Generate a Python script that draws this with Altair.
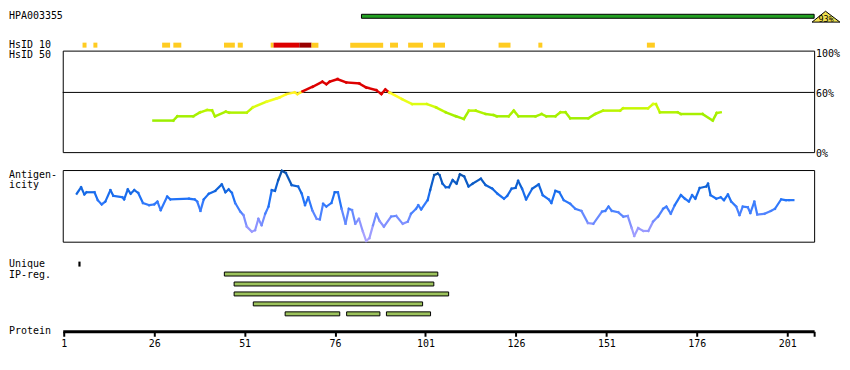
import altair as alt
import pandas as pd

FONT = "DejaVu Sans Mono"
W = 755
X_DOMAIN = [0.725, 208.43]

# ---------------- data ----------------
hpa_id = "HPA003355"
hpa_start = [83.3]
hpa_end = [208.43]
hpa_identity = ["93%"]

hsid10_start = [6.2, 9.2, 28.2, 31.3, 45.3, 49.1, 58.2, 59.0, 66.1, 69.5, 80.2, 91.2, 96.2, 103.1, 121.2, 132.2, 162.2]
hsid10_end = [7.3, 10.3, 30.4, 33.5, 48.3, 50.5, 59.0, 66.1, 69.5, 71.4, 89.3, 93.4, 100.3, 106.4, 124.5, 133.3, 164.4]
hsid10_level = ["mid"] * 7 + ["high", "top", "mid"] + ["mid"] * 7

hsid50_res = [25.8, 31.3, 32.4, 36.8, 38.7, 40.6, 42.0, 42.8, 45.8, 46.7, 51.6, 53.3, 57.1, 59.9, 60.7,
              62.6, 64.8, 65.6, 67.0, 69.8, 72.5, 73.6, 74.5, 76.7, 79.1, 82.7, 84.6, 87.4, 88.8, 89.9,
              91.0, 94.5, 97.3, 101.4, 103.9, 106.6, 109.4, 111.6, 113.0, 114.9, 117.6, 119.8, 120.7,
              124.0, 125.4, 126.7, 131.4, 133.1, 134.4, 136.9, 138.3, 139.7, 141.0, 146.0, 147.9, 150.1,
              154.8, 155.6, 162.5, 163.9, 164.7, 165.8, 170.7, 171.6, 177.6, 180.4, 181.5, 182.6]
hsid50_val = [31.7, 31.7, 36, 36, 40, 42.3, 42, 36, 40.7, 39.7, 39.7, 45, 50.7, 54, 55,
              58.3, 60, 58.3, 61, 65.7, 70.7, 68.3, 70.7, 73.3, 70, 69, 65, 62.3, 58.3, 63,
              60, 53.3, 48.3, 48.3, 45, 40, 36, 33.3, 41.7, 41.7, 38.3, 37.3, 36,
              36, 41.7, 36, 36, 38.3, 36, 36, 40, 40, 34, 34, 38.3, 41.7,
              41.7, 44, 44, 48.3, 48.3, 40, 40, 38.3, 38.3, 31.7, 39.3, 40]

antigen_res = [4.6, 5.8, 6.7, 7.3, 9.5, 10.4, 11.5, 12.5, 13.9, 14.7, 17.2, 17.7, 18.7, 19.5, 20.5, 21.6,
               22.9, 24.6, 26.0, 26.9, 27.8, 29.6, 30.5, 35.6, 37.2, 37.9, 38.8, 39.7, 41.1, 42.9, 44.7,
               45.7, 46.6, 47.5, 48.4, 49.8, 50.7, 51.6, 53.0, 53.9, 54.8, 55.7, 56.7, 57.6, 58.5, 59.4,
               60.3, 61.3, 62.4, 64.0, 65.8, 66.8, 67.7, 68.6, 69.7, 70.9, 71.8, 72.7, 73.6, 75.0, 75.9,
               76.8, 77.8, 78.9, 79.8, 80.7, 81.6, 82.6, 83.7, 84.6, 85.5, 86.5, 87.4, 88.3, 89.5, 91.5,
               92.9, 94.7, 96.1, 97.0, 98.4, 99.0, 99.8, 101.6, 102.3, 103.4, 104.4, 104.9, 105.7, 106.6,
               107.5, 108.5, 109.6, 110.5, 111.7, 112.9, 114.0, 116.3, 117.6, 119.5, 120.9, 122.7, 123.6,
               124.8, 125.9, 126.6, 127.7, 128.8, 130.5, 132.3, 133.4, 135.1, 135.8, 136.9, 138.0, 139.2,
               141.0, 142.4, 144.1, 145.9, 147.4, 149.8, 150.7, 151.6, 152.5, 154.3, 155.7, 156.9, 158.0,
               158.7, 159.8, 161.2, 162.6, 163.9, 165.3, 166.7, 167.6, 168.8, 169.9, 171.6, 172.7, 173.8,
               174.7, 175.6, 176.8, 178.6, 179.1, 179.8, 181.4, 182.6, 183.5, 184.6, 185.5, 186.9, 187.8,
               188.7, 190.1, 190.8, 191.9, 192.7, 194.7, 196.5, 197.6, 199.3, 200.6, 201.5, 202.7]
antigen_val = [0.67, 0.76, 0.66, 0.69, 0.69, 0.58, 0.52, 0.56, 0.72, 0.64, 0.62, 0.59, 0.73, 0.67, 0.72, 0.68,
               0.54, 0.51, 0.52, 0.56, 0.44, 0.63, 0.59, 0.60, 0.59, 0.56, 0.43, 0.59, 0.67, 0.71, 0.80,
               0.69, 0.73, 0.68, 0.54, 0.42, 0.37, 0.21, 0.14, 0.16, 0.32, 0.23, 0.39, 0.49, 0.72, 0.71,
               0.86, 0.99, 0.96, 0.79, 0.77, 0.67, 0.51, 0.62, 0.44, 0.32, 0.31, 0.53, 0.49, 0.54, 0.69,
               0.69, 0.46, 0.25, 0.46, 0.44, 0.25, 0.32, 0.14, 0.01, 0.05, 0.23, 0.39, 0.29, 0.21, 0.35,
               0.36, 0.25, 0.28, 0.39, 0.46, 0.51, 0.45, 0.58, 0.72, 0.93, 0.95, 0.93, 0.81, 0.76,
               0.76, 0.86, 0.81, 0.94, 0.91, 0.77, 0.81, 0.88, 0.79, 0.74, 0.67, 0.60, 0.64,
               0.74, 0.75, 0.85, 0.74, 0.59, 0.74, 0.80, 0.65, 0.59, 0.54, 0.71, 0.69, 0.58,
               0.53, 0.46, 0.43, 0.26, 0.25, 0.42, 0.43, 0.49, 0.43, 0.41, 0.35, 0.36, 0.19,
               0.08, 0.19, 0.15, 0.15, 0.28, 0.35, 0.46, 0.49, 0.39, 0.51, 0.65, 0.60, 0.56,
               0.65, 0.60, 0.75, 0.77, 0.81, 0.65, 0.60, 0.62, 0.58, 0.66, 0.56, 0.49, 0.37,
               0.49, 0.48, 0.40, 0.56, 0.38, 0.39, 0.43, 0.46, 0.59, 0.58, 0.58, 0.58]

unique_start = [5.05]
unique_end = [5.65]
ip_start = [45.4, 48.1, 48.1, 53.4, 62.2, 79.2, 90.2]
ip_end = [104.4, 103.3, 107.4, 100.2, 77.3, 88.4, 102.4]
ip_row = [1, 2, 3, 4, 5, 5, 5]

tick_values = [1, 26, 51, 76, 101, 126, 151, 176, 201]
pct_values = [100, 60, 0]
pct_labels = ["100%", "60%", "0%"]


def segments(res, val):
    return pd.DataFrame({
        "x": res[:-1], "x2": res[1:], "y": val[:-1], "y2": val[1:],
        "c": [(a + b) / 2 for a, b in zip(val[:-1], val[1:])],
    })


xsc = alt.Scale(domain=X_DOMAIN, nice=False, zero=False)


def label(text, y, baseline="middle"):
    return alt.Chart(pd.DataFrame({"t": [text]})).mark_text(
        align="left", baseline=baseline, font=FONT, fontSize=10, color="black"
    ).encode(x=alt.value(-54), y=alt.value(y), text="t:N")


# ---------------- Panel A: HPA antigen ----------------
hpa_df = pd.DataFrame({"s": hpa_start, "e": hpa_end, "lab": hpa_identity})
hpa_bar = alt.Chart(hpa_df).mark_rect(fill="#22a022", stroke="black", strokeWidth=1).encode(
    x=alt.X("s:Q", scale=xsc, axis=None), x2="e:Q", y=alt.value(3.5), y2=alt.value(7.5))
hpa_tri = alt.Chart(hpa_df).mark_point(
    shape="M-0.15,0.39L0.82,-0.39L1.85,0.39Z", size=784, filled=True, fill="#f0e050",
    stroke="black", strokeWidth=1, opacity=1
).encode(x=alt.X("e:Q", scale=xsc, axis=None), y=alt.value(5.9))
hpa_txt = alt.Chart(hpa_df).mark_text(font=FONT, fontSize=8.5, color="black", dx=12,
                                      baseline="middle").encode(
    x=alt.X("e:Q", scale=xsc, axis=None), y=alt.value(7.8), text="lab:N")
panelA = alt.layer(hpa_bar, hpa_tri, hpa_txt, label(hpa_id, 0, "top")).properties(width=W, height=30)

# ---------------- Panel B: HsID 10 ----------------
h10_df = pd.DataFrame({"s": hsid10_start, "e": hsid10_end, "lvl": hsid10_level})
h10 = alt.Chart(h10_df).mark_rect().encode(
    x=alt.X("s:Q", scale=xsc, axis=None), x2="e:Q", y=alt.value(2), y2=alt.value(7),
    color=alt.Color("lvl:N", scale=alt.Scale(domain=["mid", "high", "top"],
                                             range=["#ffcc22", "#dd0000", "#990000"]), legend=None))
panelB = alt.layer(h10, label("HsID 10", 4)).properties(width=W, height=10)

# ---------------- Panel C: HsID 50 ----------------
ys50 = alt.Scale(domain=[0, 102], nice=False, zero=False)
h50_seg = alt.Chart(segments(hsid50_res, hsid50_val)).mark_rule(strokeWidth=2.5, strokeCap="square").encode(
    x=alt.X("x:Q", scale=xsc, axis=None), x2="x2:Q",
    y=alt.Y("y:Q", scale=ys50, axis=None), y2="y2:Q",
    color=alt.Color("c:Q", legend=None, scale=alt.Scale(
        domain=[30, 38, 44, 50, 56, 60, 60.01, 102],
        range=["#99ee00", "#a6f000", "#c6f800", "#e6ff18", "#ffff22", "#ffee22", "#dd0000", "#dd0000"],
        interpolate="rgb")))
rule60 = alt.Chart(pd.DataFrame({"v": [60]})).mark_rule(color="black", strokeWidth=1).encode(
    y=alt.Y("v:Q", scale=ys50, axis=None))
pct = alt.Chart(pd.DataFrame({"v": pct_values, "t": pct_labels})).mark_text(
    align="left", baseline="middle", font=FONT, fontSize=10, color="black", dy=1.5
).encode(x=alt.value(W + 2), y=alt.Y("v:Q", scale=ys50, axis=None), text="t:N")
panelC = alt.layer(rule60, h50_seg, pct, label("HsID 50", 4.5)).properties(
    width=W, height=102, view=alt.ViewBackground(stroke="black", strokeWidth=1))

# ---------------- spacer ----------------
spacer = alt.Chart(pd.DataFrame({"s": [100]})).mark_point(opacity=0).encode(
    x=alt.X("s:Q", scale=xsc, axis=None)).properties(width=W, height=18)

# ---------------- Panel D: Antigenicity ----------------
ysA = alt.Scale(domain=[0, 1], nice=False, zero=False)
ant_seg = alt.Chart(segments(antigen_res, antigen_val)).mark_rule(strokeWidth=2.2, strokeCap="square").encode(
    x=alt.X("x:Q", scale=xsc, axis=None), x2="x2:Q",
    y=alt.Y("y:Q", scale=ysA, axis=None), y2="y2:Q",
    color=alt.Color("c:Q", legend=None, scale=alt.Scale(
        domain=[0, 0.25, 0.42, 0.6, 0.8, 1.0],
        range=["#b4a8ff", "#8a92ff", "#4a82ff", "#1f72f8", "#0c5fd0", "#0a4c9a"],
        interpolate="rgb")))
panelD = alt.layer(ant_seg, label("Antigen-", 5.3), label("icity", 15.3)).properties(
    width=W, height=72, view=alt.ViewBackground(stroke="black", strokeWidth=1))

# ---------------- Panel E: Unique / IP-reg / Protein axis ----------------
ysR = alt.Scale(domain=[-2.25, 6.75], reverse=True, nice=False, zero=False)
xaxis = alt.Axis(values=tick_values + [X_DOMAIN[1]],
                 labelExpr="datum.value > 205 ? '' : datum.label",
                 domainWidth=3, domainColor="black", tickColor="black", tickWidth=2, tickSize=5,
                 labelFont=FONT, labelFontSize=10, labelColor="black", labelPadding=2,
                 grid=False, title=None, labelFlush=False, labelOverlap=False)
uniq = alt.Chart(pd.DataFrame({"s": unique_start, "e": unique_end, "row": [0]})).transform_calculate(
    lo="datum.row - 0.25", hi="datum.row + 0.25").mark_rect(color="black").encode(
    x=alt.X("s:Q", scale=xsc, axis=xaxis), x2="e:Q",
    y=alt.Y("lo:Q", scale=ysR, axis=None), y2="hi:Q")
ip = alt.Chart(pd.DataFrame({"s": ip_start, "e": ip_end, "row": ip_row})).transform_calculate(
    lo="datum.row - 0.2", hi="datum.row + 0.2").mark_rect(
    fill="#9cc25c", stroke="black", strokeWidth=1).encode(
    x=alt.X("s:Q", scale=xsc, axis=xaxis), x2="e:Q",
    y=alt.Y("lo:Q", scale=ysR, axis=None), y2="hi:Q")
panelE = alt.layer(uniq, ip, label("Unique", 22.3), label("IP-reg.", 33.3),
                   label("Protein", 90)).properties(width=W, height=90)

chart = alt.vconcat(panelA, panelB, panelC, spacer, panelD, panelE, spacing=0,
                    bounds="flush").properties(padding=0).configure_view(stroke=None)

chart.save("out.html", embed_options={"renderer": "svg", "actions": False})
